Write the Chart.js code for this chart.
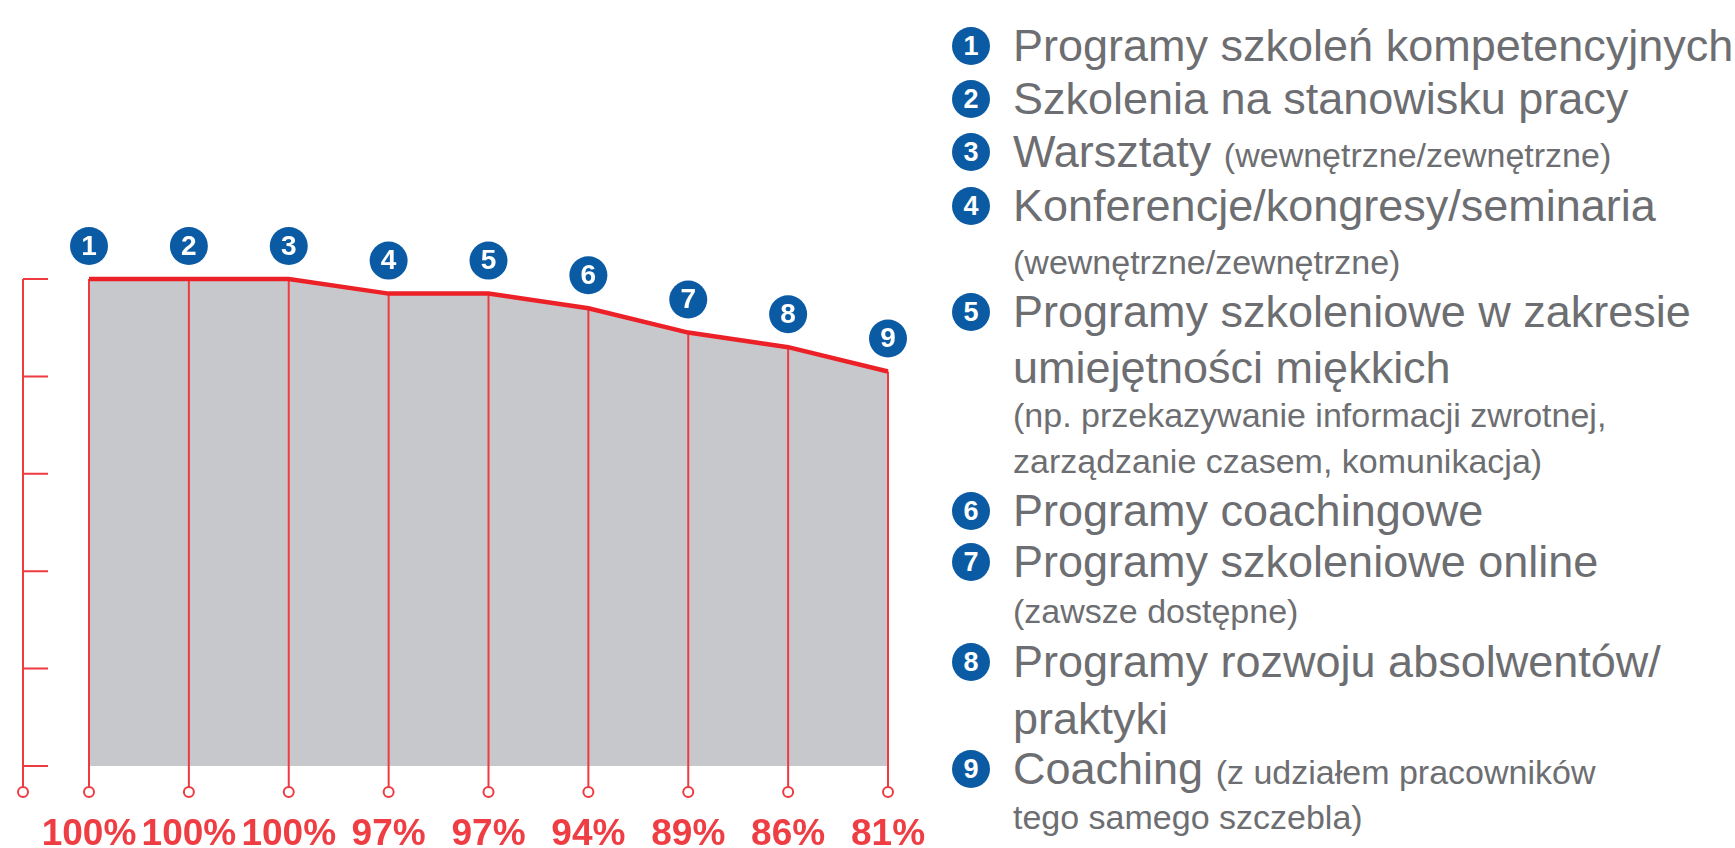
<!DOCTYPE html>
<html lang="pl">
<head>
<meta charset="utf-8">
<title>Programy szkoleniowe</title>
<script src="https://cdn.jsdelivr.net/npm/chart.js@4.4.1/dist/chart.umd.min.js"></script>
<style>
  html, body { margin: 0; padding: 0; background: #fff; }
  body { width: 1735px; height: 848px; position: relative; overflow: hidden;
         font-family: "Liberation Sans", Arial, sans-serif; color: #6d6e71; }
  #wrap { position: absolute; left: 0; top: 0; width: 940px; height: 848px; }
  .badge { position: absolute; left: 952px; width: 38px; height: 38px; border-radius: 50%;
           background: #0a5ba3; color: #fff; font-weight: bold; font-size: 27px;
           line-height: 38px; text-align: center; }
  .ln { position: absolute; left: 1013px; height: 50px; line-height: 50px;
        font-size: 45px; white-space: nowrap; }
  .ln small, .ln.sm { font-size: 34px; }
</style>
</head>
<body>
<div id="wrap"><canvas id="chart"></canvas></div>

<div class="badge" style="top:27px">1</div>
<div class="ln" style="top:21px">Programy szkoleń kompetencyjnych</div>
<div class="badge" style="top:80px">2</div>
<div class="ln" style="top:74px">Szkolenia na stanowisku pracy</div>
<div class="badge" style="top:133px">3</div>
<div class="ln" style="top:127px">Warsztaty <small>(wewnętrzne/zewnętrzne)</small></div>
<div class="badge" style="top:187px">4</div>
<div class="ln" style="top:181px">Konferencje/kongresy/seminaria</div>
<div class="ln sm" style="top:237px">(wewnętrzne/zewnętrzne)</div>
<div class="badge" style="top:293px">5</div>
<div class="ln" style="top:287px">Programy szkoleniowe w zakresie</div>
<div class="ln" style="top:343px">umiejętności miękkich</div>
<div class="ln sm" style="top:390px">(np. przekazywanie informacji zwrotnej,</div>
<div class="ln sm" style="top:436px">zarządzanie czasem, komunikacja)</div>
<div class="badge" style="top:492px">6</div>
<div class="ln" style="top:486px">Programy coachingowe</div>
<div class="badge" style="top:543px">7</div>
<div class="ln" style="top:537px">Programy szkoleniowe online</div>
<div class="ln sm" style="top:586px">(zawsze dostępne)</div>
<div class="badge" style="top:643px">8</div>
<div class="ln" style="top:637px">Programy rozwoju absolwentów/</div>
<div class="ln" style="top:694px">praktyki</div>
<div class="badge" style="top:750px">9</div>
<div class="ln" style="top:744px">Coaching <small>(z udziałem pracowników</small></div>
<div class="ln sm" style="top:792px">tego samego szczebla)</div>

<script>
const categories = ["1", "2", "3", "4", "5", "6", "7", "8", "9"];
const shares = [100, 100, 100, 97, 97, 94, 89, 86, 81];
const tickLabels = ["100%", "100%", "100%", "97%", "97%", "94%", "89%", "86%", "81%"];

const RED = "#ec2027";
const RED_LIGHT = "#ee3b42";
const BLUE = "#0a5ba3";

// red axis on the left with ticks pointing right and a small ring at the bottom
const leftAxis = {
    id: "leftAxis",
    beforeDatasetsDraw(chart) {
        const { ctx, chartArea, scales: { y } } = chart;
        const ax = chartArea.left - 66;
        const ringY = chartArea.bottom + 26;
        ctx.save();
        ctx.strokeStyle = RED_LIGHT;
        ctx.lineWidth = 2;
        ctx.beginPath();
        ctx.moveTo(ax, y.getPixelForValue(100));
        ctx.lineTo(ax, ringY - 5);
        y.ticks.forEach(t => {
            const py = y.getPixelForValue(t.value);
            ctx.moveTo(ax, py);
            ctx.lineTo(ax + 25, py);
        });
        ctx.stroke();
        ctx.beginPath();
        ctx.arc(ax, ringY, 5, 0, Math.PI * 2);
        ctx.fillStyle = "#fff";
        ctx.fill();
        ctx.stroke();
        ctx.restore();
    }
};

// drop lines from every point down to a ring below the area
const dropLines = {
    id: "dropLines",
    beforeDatasetDraw(chart) {
        const { ctx, chartArea } = chart;
        const ringY = chartArea.bottom + 26;
        const meta = chart.getDatasetMeta(0);
        ctx.save();
        ctx.strokeStyle = RED_LIGHT;
        ctx.lineWidth = 2;
        meta.data.forEach(pt => {
            ctx.beginPath();
            ctx.moveTo(pt.x, pt.y);
            ctx.lineTo(pt.x, ringY - 5);
            ctx.stroke();
            ctx.beginPath();
            ctx.arc(pt.x, ringY, 5, 0, Math.PI * 2);
            ctx.fillStyle = "#fff";
            ctx.fill();
            ctx.stroke();
        });
        ctx.restore();
    }
};

// blue numbered badges above the points
const badges = {
    id: "badges",
    afterDatasetsDraw(chart) {
        const { ctx } = chart;
        const meta = chart.getDatasetMeta(0);
        ctx.save();
        meta.data.forEach((pt, i) => {
            const cy = pt.y - 33;
            ctx.beginPath();
            ctx.arc(pt.x, cy, 19, 0, Math.PI * 2);
            ctx.fillStyle = BLUE;
            ctx.fill();
            ctx.fillStyle = "#fff";
            ctx.font = "bold 28px 'Liberation Sans', Arial, sans-serif";
            ctx.textAlign = "center";
            ctx.textBaseline = "middle";
            ctx.fillText(categories[i], pt.x, cy + 1);
        });
        ctx.restore();
    }
};

new Chart(document.getElementById("chart"), {
    type: "line",
    data: {
        labels: categories,
        datasets: [{
            data: shares,
            borderColor: RED,
            borderWidth: 4.5,
            backgroundColor: "#c7c8cc",
            fill: "origin",
            tension: 0,
            pointRadius: 0,
            clip: false,
        }]
    },
    options: {
        responsive: true,
        maintainAspectRatio: false,
        animation: false,
        layout: { padding: { left: 89, right: 52, top: 279, bottom: 0 } },
        plugins: { legend: { display: false }, tooltip: { enabled: false } },
        scales: {
            x: {
                offset: false,
                grid: { display: false, drawTicks: false },
                border: { display: false },
                ticks: {
                    padding: 47,
                    autoSkip: false,
                    maxRotation: 0,
                    minRotation: 0,
                    color: "#ee3e44",
                    font: { family: "'Liberation Sans', Arial, sans-serif", size: 37, weight: "bold" },
                    callback: (v, i) => tickLabels[i],
                },
                afterFit: s => {
                    s.height = 82;
                    s.paddingLeft = 0;
                    s.paddingRight = 0;
                },
            },
            y: {
                display: false,
                min: 0,
                max: 100,
                ticks: { stepSize: 20 },
            }
        }
    },
    plugins: [leftAxis, dropLines, badges]
});
</script>
</body>
</html>
